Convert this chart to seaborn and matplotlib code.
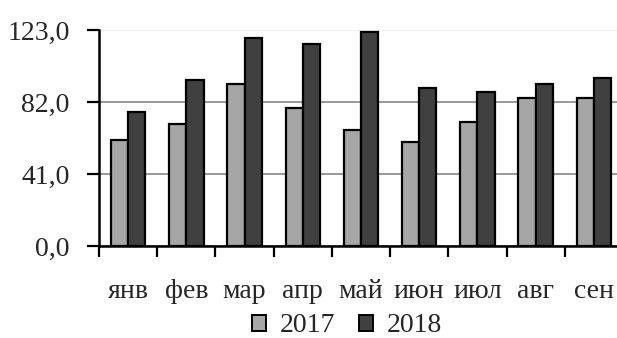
import numpy as np
import pandas as pd
import matplotlib
matplotlib.use("Agg")
import matplotlib.pyplot as plt
import seaborn as sns

months = ["янв", "фев", "мар", "апр", "май", "июн", "июл", "авг", "сен"]
years = ["2017", "2018"]
values_2017 = [60.4, 69.5, 92.4, 78.8, 66.2, 59.2, 70.6, 84.5, 84.5]
values_2018 = [76.3, 94.5, 118.6, 115.2, 122.0, 90.2, 87.9, 92.4, 95.9]
y_ticks = [0, 41, 82, 123]
y_tick_labels = ["0,0", "41,0", "82,0", "123,0"]

df = pd.DataFrame({
    "month": months * 2,
    "year": [years[0]] * len(months) + [years[1]] * len(months),
    "value": values_2017 + values_2018,
})

sns.set_theme(style="white")
plt.rcParams["font.family"] = ["Liberation Serif", "DejaVu Serif"]
FS = 20
plt.rcParams["font.size"] = FS

W, H = 617, 338
fig = plt.figure(figsize=(W / 100, H / 100), dpi=100)
ax = fig.add_axes([99 / W, 1 - 246 / H, 524 / W, 216 / H])

palette = {"2017": "#a6a6a6", "2018": "#404040"}
sns.barplot(data=df, x="month", y="value", hue="year", order=months,
            hue_order=years, palette=palette, width=0.59, gap=0,
            edgecolor="black", linewidth=1.6, saturation=1, ax=ax,
            legend=False, errorbar=None)

ax.set_xlim(-0.5, len(months) - 0.5)
ax.set_ylim(0, 123)
ax.set_xlabel("")
ax.set_ylabel("")

# y axis: comma-decimal labels, grid behind bars
ax.set_yticks(y_ticks)
ax.set_yticklabels(y_tick_labels)
ax.set_axisbelow(True)
ax.yaxis.grid(True, color="#909090", linewidth=1.3)
ax.get_ygridlines()[-1].set_color("#eeeeee")
ax.tick_params(axis="y", direction="out", length=9, width=1.6,
               color="black", pad=12, labelsize=FS, left=True)

# x axis: tick marks on category boundaries, labels at centres
ax.set_xticks(np.arange(-0.5, len(months), 1.0))
ax.set_xticklabels([""] * (len(months) + 1))
ax.set_xticks(np.arange(len(months)), minor=True)
ax.set_xticklabels(months, minor=True)
ax.tick_params(axis="x", which="major", direction="out", length=8,
               width=1.6, color="black", bottom=True)
ax.tick_params(axis="x", which="minor", length=0, pad=24, labelsize=FS)

for side in ["top", "right"]:
    ax.spines[side].set_visible(False)
for side in ["left", "bottom"]:
    ax.spines[side].set_color("black")
    ax.spines[side].set_linewidth(1.8)

handles = [plt.Rectangle((0, 0), 1, 1, facecolor=palette[y],
                         edgecolor="black", linewidth=1.4) for y in years]
fig.legend(handles, years, loc="center", bbox_to_anchor=(347 / W, 1 - 326 / H),
           ncol=2, frameon=False, handlelength=0.5, handleheight=0.5,
           handletextpad=0.5, columnspacing=0.85, fontsize=FS,
           borderpad=0, borderaxespad=0)

fig.savefig("out.png", dpi=100)
